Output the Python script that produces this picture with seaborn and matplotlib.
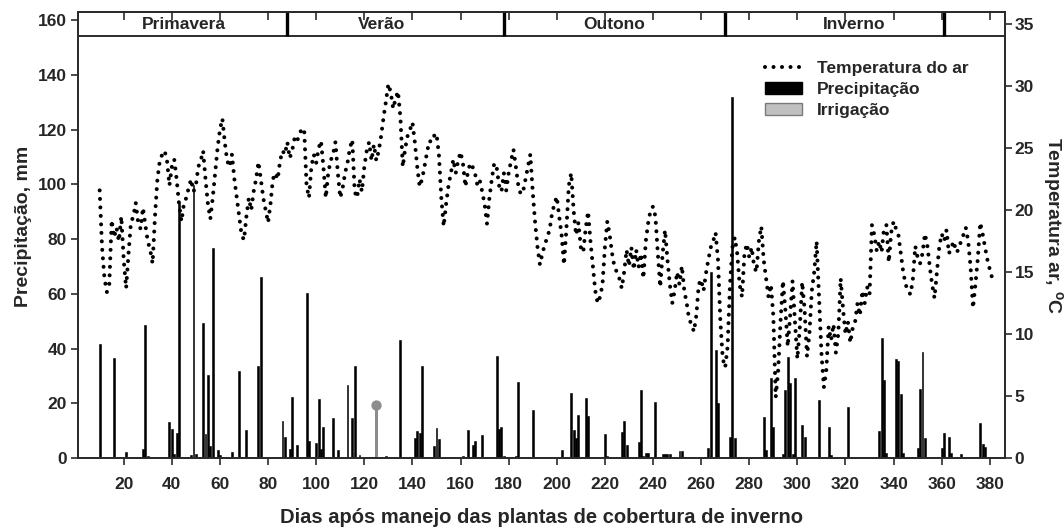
import numpy as np
import pandas as pd
import matplotlib
matplotlib.use("Agg")
import matplotlib.pyplot as plt
import seaborn as sns
from matplotlib.lines import Line2D
from matplotlib.patches import Patch

sns.set_theme(style="ticks")
plt.rcParams["font.family"] = ["Liberation Sans", "DejaVu Sans"]
plt.rcParams["font.weight"] = "bold"
plt.rcParams["mathtext.fontset"] = "custom"
plt.rcParams["mathtext.rm"] = "Liberation Sans:bold"
plt.rcParams["mathtext.bf"] = "Liberation Sans:bold"

# ---- data -------------------------------------------------------------
# daily mean air temperature (°C), first value is day 10
temp_first_day = 10
temp_air = [
    21.6, 17.0, 14.5, 13.4, 14.0, 19.2, 17.8, 18.6, 17.5, 19.5,   # 10-19
    16.0, 13.7, 16.5, 19.0, 19.5, 20.6, 19.0, 18.5, 20.2, 18.8,   # 20-29
    17.5, 16.8, 15.7, 19.5, 22.5, 24.0, 24.5, 24.8, 24.0, 22.0,   # 30-39
    23.5, 24.1, 22.5, 20.5, 19.1, 20.5, 21.0, 21.8, 22.5, 21.5,   # 40-49
    22.0, 23.5, 24.0, 24.8, 22.5, 20.5, 19.3, 21.0, 23.0, 25.0,   # 50-59
    26.5, 27.4, 25.5, 24.0, 23.5, 24.5, 22.5, 21.0, 19.5, 18.0,   # 60-69
    17.6, 19.5, 21.0, 20.0, 21.5, 22.5, 23.9, 22.5, 21.0, 20.0,   # 70-79
    19.0, 20.5, 22.5, 23.0, 22.5, 24.0, 24.8, 24.5, 25.5, 24.2,   # 80-89
    24.8, 25.8, 25.5, 26.2, 26.5, 26.6, 22.0, 21.0, 23.5, 24.5,   # 90-99
    23.8, 25.0, 25.6, 23.5, 21.0, 23.0, 24.0, 24.5, 25.5, 23.0,   # 100-109
    21.0, 21.8, 23.0, 23.8, 25.0, 25.7, 21.5, 21.0, 22.5, 21.5,   # 110-119
    23.5, 24.8, 25.5, 24.0, 25.3, 24.0, 24.8, 26.0, 27.5, 28.8,   # 120-129
    30.2, 29.5, 28.2, 29.0, 29.6, 27.5, 23.5, 25.0, 26.0, 26.5,   # 130-139
    27.1, 25.5, 23.5, 21.9, 22.5, 23.5, 24.6, 25.6, 25.5, 26.0,   # 140-149
    26.2, 24.5, 21.0, 18.7, 20.5, 22.0, 23.0, 24.1, 23.0, 24.0,   # 150-159
    24.7, 23.8, 21.9, 23.0, 23.8, 23.5, 23.0, 22.0, 22.4, 21.5,   # 160-169
    20.5, 18.9, 21.0, 22.5, 23.8, 23.5, 22.0, 21.5, 23.0, 21.6,   # 170-179
    23.0, 24.0, 24.9, 23.5, 22.0, 21.3, 21.5, 22.5, 23.5, 24.5,   # 180-189
    21.5, 19.0, 17.0, 15.6, 16.5, 17.2, 17.8, 18.4, 19.7, 20.5,   # 190-199
    21.1, 19.5, 18.0, 15.6, 18.5, 22.0, 23.0, 20.0, 18.0, 19.0,   # 200-209
    17.0, 16.6, 18.5, 19.9, 17.5, 15.5, 13.5, 12.5, 13.0, 14.0,   # 210-219
    17.0, 19.1, 18.0, 16.5, 15.4, 15.0, 14.5, 13.7, 15.0, 16.8,   # 220-229
    15.5, 17.0, 15.2, 16.8, 15.4, 16.5, 14.5, 17.5, 19.0, 20.0,   # 230-239
    20.3, 19.5, 16.5, 13.8, 16.5, 18.4, 16.0, 14.0, 12.5, 13.5,   # 240-249
    15.0, 14.0, 15.5, 13.5, 12.5, 11.2, 10.8, 10.2, 11.5, 14.0,   # 250-259
    14.4, 13.5, 14.9, 16.0, 17.0, 17.5, 18.2, 16.0, 11.0, 8.0,    # 260-269
    7.3, 9.0, 14.0, 17.0, 17.8, 16.5, 14.0, 13.0, 16.5, 17.3,     # 270-279
    16.2, 17.0, 15.5, 15.0, 17.5, 18.7, 16.0, 14.5, 13.0, 14.0,   # 280-289
    11.5, 4.9, 7.0, 11.0, 14.3, 12.0, 9.0, 11.5, 14.3, 11.0,      # 290-299
    8.0, 10.5, 14.2, 12.0, 8.2, 10.0, 13.5, 15.0, 17.5, 13.0,     # 300-309
    8.5, 5.7, 7.0, 10.6, 9.5, 10.8, 8.5, 10.0, 14.5, 12.0,        # 310-319
    10.0, 11.0, 9.3, 10.5, 11.0, 12.5, 11.5, 13.5, 12.5, 13.8,    # 320-329
    13.2, 18.8, 18.0, 16.7, 17.5, 16.6, 18.5, 18.8, 15.8, 18.2,   # 330-339
    19.1, 18.5, 18.0, 16.5, 15.0, 14.0, 13.5, 13.2, 14.4, 17.1,   # 340-349
    16.2, 15.7, 16.5, 18.1, 17.2, 15.5, 14.0, 12.9, 15.0, 17.1,   # 350-359
    18.1, 17.5, 18.4, 16.5, 17.0, 17.5, 16.6, 16.8, 17.5, 18.0,   # 360-369
    18.6, 17.5, 15.4, 12.1, 14.0, 16.1, 19.0, 18.1, 17.0, 16.0,   # 370-379
    15.2, 14.5,                                                   # 380-381
]

# rainfall events (day, mm)
rain_days = [
    10, 16, 21, 28, 29, 30, 39, 40, 41, 42, 43, 48, 49, 50, 51, 53, 54, 55, 56, 57,
    59, 60, 61, 62, 63, 65, 66, 68, 71, 72, 76, 77, 86, 87, 89, 90, 92, 95, 96, 97,
    100, 101, 102, 103, 107, 109, 113, 114, 115, 116, 118, 129, 130, 135, 141, 142,
    143, 144, 149, 150, 151, 161, 163, 165, 166, 169, 175, 176, 177, 178, 183, 184,
    190, 191, 193, 194, 196, 202, 203, 206, 207, 208, 209, 212, 213, 217, 220, 221,
    227, 228, 229, 234, 235, 236, 237, 238, 241, 243, 244, 245, 246, 247, 251, 252,
    257, 259, 263, 264, 266, 267, 272, 273, 274, 276, 286, 287, 289, 290, 294, 295,
    296, 297, 298, 299, 302, 303, 308, 309, 313, 314, 321, 322, 334, 335, 336, 337,
    341, 342, 343, 344, 350, 351, 352, 353, 360, 361, 363, 364, 368, 376, 377, 378,
]
rain_mm = [
    41.7, 36.6, 2.2, 3.2, 48.5, 0.6, 13.3, 10.5, 1.3, 9.2, 93.1, 1.2, 99.6, 1.6, 0.4, 49.5, 8.7, 30.4, 4.3, 76.7,
    2.8, 1.0, 0.3, 0.3, 0.3, 2.2, 0.3, 31.7, 10.3, 0.4, 33.6, 66.1, 13.5, 7.5, 3.4, 22.2, 4.9, 0.3, 60.4, 6.3,
    5.3, 21.6, 3.2, 11.4, 14.5, 2.8, 26.7, 0.3, 14.5, 33.6, 1.0, 0.6, 0.3, 43.3, 7.2, 9.8,
    9.2, 33.7, 4.5, 10.9, 7.0, 0.9, 10.2, 4.9, 6.1, 8.3, 37.2, 10.7, 11.4, 0.6, 0.6, 27.9,
    17.6, 0.3, 0.2, 0.2, 0.2, 2.9, 0.3, 23.6, 10.3, 7.2, 15.6, 22.1, 15.3, 0.3, 8.7, 0.9,
    9.4, 13.7, 4.8, 5.8, 24.7, 0.6, 1.9, 1.9, 20.6, 0.5, 1.4, 1.4, 1.6, 1.4, 2.7, 2.5,
    0.2, 0.2, 3.8, 68.0, 39.3, 20.0, 7.8, 132.0, 7.2, 0.2, 15.0, 2.9, 29.2, 11.5, 1.6, 25.0,
    37.0, 27.4, 1.6, 29.4, 12.2, 7.6, 0.3, 21.1, 11.2, 1.0, 18.6, 0.2, 9.9, 43.8, 28.5, 2.0,
    36.1, 35.6, 23.3, 2.0, 3.7, 25.2, 38.6, 7.2, 3.7, 9.1, 7.8, 2.0, 1.6, 12.8, 5.0, 4.1,
]

# irrigation event (day, mm)
irrig_days = [125]
irrig_mm = [19.3]

# seasons shown in the top band
season_names = ["Primavera", "Verão", "Outono", "Inverno"]
season_breaks = [88, 178, 270, 361]
season_label_days = [45, 127, 224, 323.5]

x_ticks = list(range(20, 381, 20))
rain_ticks = list(range(0, 161, 20))
temp_ticks = list(range(0, 36, 5))

# ---- figure -----------------------------------------------------------
W, H = 1064, 531
fig = plt.figure(figsize=(W / 100, H / 100), dpi=100)
ax = fig.add_axes([78 / W, 1 - 458 / H, 927 / W, 446 / H])
ax2 = ax.twinx()

spine_col = "#2b2b2b"
tick_fs = 12.5

rain = pd.DataFrame({"dia": rain_days, "mm": rain_mm})
sns.barplot(data=rain, x="dia", y="mm", native_scale=True, color="black",
            saturation=1, width=0.8, edgecolor="black", linewidth=0.4,
            errorbar=None, ax=ax)

irr = pd.DataFrame({"dia": irrig_days, "mm": irrig_mm})
sns.barplot(data=irr, x="dia", y="mm", native_scale=True, color="#8c8c8c",
            saturation=1, width=1.2, linewidth=0, errorbar=None, ax=ax)
sns.scatterplot(data=irr, x="dia", y="mm", color="#8c8c8c", s=55,
                linewidth=0, ax=ax, zorder=5)

temp = pd.DataFrame({"dia": np.arange(temp_first_day, temp_first_day + len(temp_air)),
                     "t": temp_air})
sns.lineplot(data=temp, x="dia", y="t", color="black", linewidth=2.9,
             legend=False, ax=ax2)
dot_style = (0, (0.01, 2.1))
for ln in ax2.lines:
    ln.set_linestyle(dot_style)
    ln.set_dash_capstyle("round")

# limits
ax.set_xlim(1, 386.3)
ax.set_ylim(0, 163)
ax2.set_ylim(0, 36)

# season band along the top
band_low = 154.2
ax.axhline(band_low, color=spine_col, lw=1.4, zorder=6)
ax.vlines(season_breaks, band_low, 163, color="black", lw=2.4, zorder=6)
for name, d in zip(season_names, season_label_days):
    ax.text(d, 158.4, name, ha="center", va="center", fontsize=tick_fs,
            fontweight="bold", zorder=7)

# ticks
ax.set_xticks(x_ticks, labels=[str(t) for t in x_ticks])
ax.set_yticks(rain_ticks, labels=[str(t) for t in rain_ticks])
ax2.set_yticks(temp_ticks, labels=[str(t) for t in temp_ticks])
ax.tick_params(axis="x", direction="out", length=5, width=1.2, color=spine_col,
               labelsize=tick_fs, pad=9)
ax.tick_params(axis="y", direction="out", length=5, width=1.2, color=spine_col,
               labelsize=tick_fs, pad=3)
ax2.tick_params(axis="y", direction="out", length=5, width=1.2, color=spine_col,
                labelsize=tick_fs, pad=2)
top = ax.secondary_xaxis("top")
top.set_xticks(x_ticks)
top.tick_params(direction="in", length=6, width=1.2, color=spine_col, labeltop=False)
for a in (ax, ax2, top):
    for sp in a.spines.values():
        sp.set_color(spine_col)
        sp.set_linewidth(1.3)

# axis titles
ax.set_xlabel("Dias após manejo das plantas de cobertura de inverno",
              fontsize=14.5, fontweight="bold")
ax.xaxis.set_label_coords(0.5, -0.112)
ax.xaxis.label.set_verticalalignment("top")
ax.set_ylabel("Precipitação, mm", fontsize=14, fontweight="bold")
ax.yaxis.set_label_coords(-0.050, 0.52)
ax2.set_ylabel(r"Temperatura ar, $^{\mathrm{o}}$C", fontsize=14, fontweight="bold",
               rotation=270, va="bottom")
ax2.yaxis.set_label_coords(1.038, 0.52)

# legend
handles = [
    Line2D([0], [0], color="black", lw=2.9, linestyle=dot_style, dash_capstyle="round"),
    Patch(facecolor="black", edgecolor="black"),
    Patch(facecolor="#c0c0c0", edgecolor="#7a7a7a", linewidth=1.0),
]
labels = ["Temperatura do ar", "Precipitação", "Irrigação"]
ax2.legend(handles, labels, loc="upper left", bbox_to_anchor=(0.7335, 0.906),
           frameon=False, borderpad=0.4, borderaxespad=0,
           handlelength=2.15, handletextpad=0.85, labelspacing=0.33,
           prop={"weight": "bold", "size": tick_fs})

fig.savefig("out.png", dpi=100)
